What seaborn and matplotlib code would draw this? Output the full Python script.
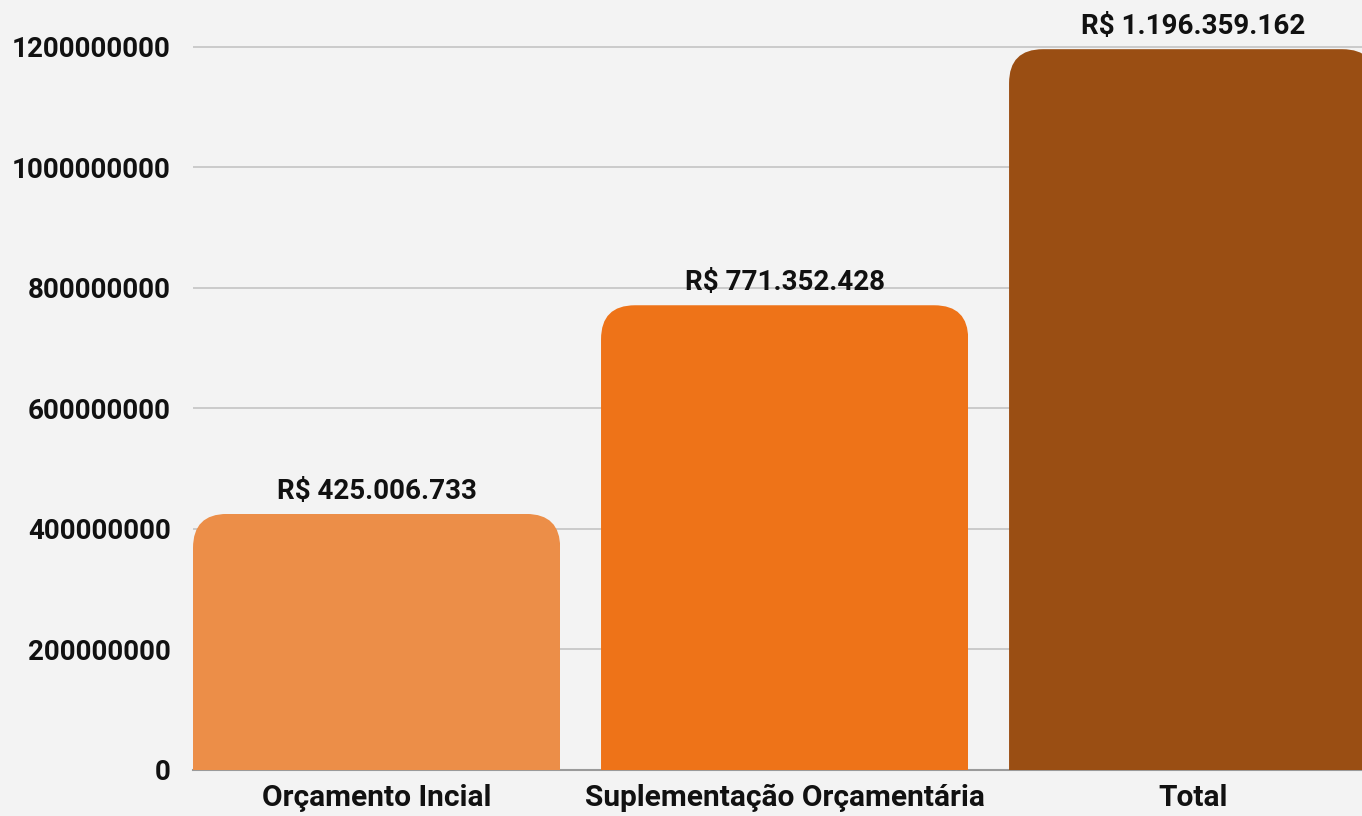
import matplotlib
matplotlib.use("Agg")
import matplotlib.pyplot as plt
import seaborn as sns
import pandas as pd
from matplotlib.patches import FancyBboxPatch

categories = ["Orçamento Incial", "Suplementação Orçamentária", "Total"]
values = [425006733, 771352428, 1196359162]
value_labels = ["R$ 425.006.733", "R$ 771.352.428", "R$ 1.196.359.162"]
colors = ["#EC8E48", "#EE7318", "#9A4E13"]
yticks = [0, 200000000, 400000000, 600000000, 800000000, 1000000000, 1200000000]

sns.set_style("white")
plt.rcParams["font.family"] = ["Roboto", "DejaVu Sans"]
plt.rcParams["font.weight"] = "bold"

bg = "#F3F3F3"
fig = plt.figure(figsize=(13.62, 8.16), dpi=100, facecolor=bg)
ax = fig.add_axes([193 / 1362, 46 / 816, 1 - 193 / 1362, 1 - 46 / 816])
ax.set_facecolor(bg)

df = pd.DataFrame({"cat": categories, "val": values})
sns.barplot(data=df, x="cat", y="val", hue="cat", palette=colors, width=0.9,
            saturation=1, legend=False, ax=ax, zorder=3)

ax.set_xlim(-0.45, 2.415)
ax.set_ylim(0, 1.278e9)
ax.set_yticks(yticks)
ax.set_yticklabels([str(t) for t in yticks])
ax.grid(axis="y", color="#C4C4C4", linewidth=1.2, zorder=0)
ax.set_axisbelow(True)
for s in ["top", "right", "left"]:
    ax.spines[s].set_visible(False)
ax.spines["bottom"].set_color("#9A9A9A")
ax.spines["bottom"].set_linewidth(1.5)
ax.spines["bottom"].set_zorder(1)
ax.tick_params(axis="y", length=0, labelsize=20, labelcolor="#111111", pad=16)
ax.tick_params(axis="x", length=0, labelsize=21.5, labelcolor="#111111", pad=10)
ax.set_xlabel("")
ax.set_ylabel("")
for lab in ax.get_xticklabels() + ax.get_yticklabels():
    lab.set_fontweight("bold")

# rounded top corners via clip paths
fig.canvas.draw()
x_per_px = (ax.get_xlim()[1] - ax.get_xlim()[0]) / ax.bbox.width
y_per_px = (ax.get_ylim()[1] - ax.get_ylim()[0]) / ax.bbox.height
r_px = 34
rx = r_px * x_per_px
aspect = y_per_px / x_per_px
for p in ax.patches:
    x0 = p.get_x()
    w = p.get_width()
    h = p.get_height()
    ext = r_px * 2 * y_per_px
    clip = FancyBboxPatch((x0, -ext), w, h + ext,
                          boxstyle=f"round,pad=0,rounding_size={rx}",
                          mutation_aspect=aspect, transform=ax.transData,
                          facecolor="none", edgecolor="none")
    p.set_clip_path(clip)
    p.set_linewidth(0)

for i, (v, lab) in enumerate(zip(values, value_labels)):
    ax.annotate(lab, (i, v), xytext=(0, 9), textcoords="offset pixels",
                ha="center", va="bottom", fontsize=20, fontweight="bold",
                color="#111111", annotation_clip=False, zorder=5)

fig.savefig("out.png", dpi=100, facecolor=bg)
